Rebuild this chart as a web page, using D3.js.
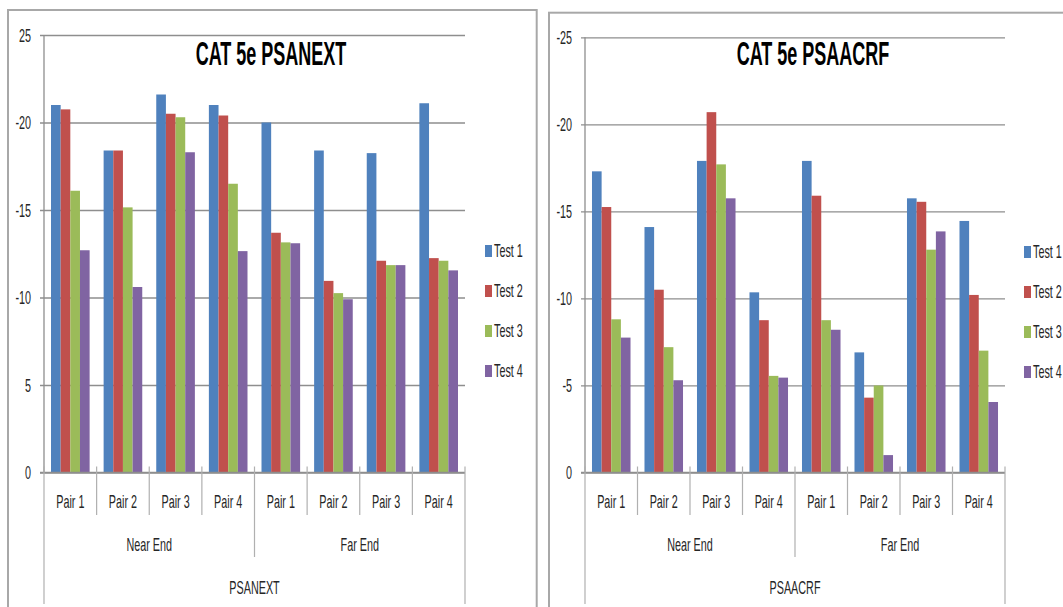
<!DOCTYPE html>
<html>
<head>
<meta charset="utf-8">
<script src="https://cdn.jsdelivr.net/npm/d3@7"></script>
<style>
  html, body { margin: 0; padding: 0; background: #fff; }
  svg { display: block; }
</style>
</head>
<body>
<svg id="chart" width="1063" height="607"></svg>
<script>
// ---------------- DATA ----------------
const seriesNames = ["Test 1", "Test 2", "Test 3", "Test 4"];
const pairs = ["Pair 1", "Pair 2", "Pair 3", "Pair 4"];
const ends = ["Near End", "Far End"];
const tickValues = [0, 5, 10, 15, 20, 25];

// Chart 1: CAT 5e PSANEXT
const nextTitle = "CAT 5e PSANEXT";
const nextAxisTitle = "PSANEXT";
const nextTickLabels = ["0", "5", "-10", "-15", "-20", "25"];
const nextTest1 = [21.0, 18.4, 21.6, 21.0, 20.0, 18.4, 18.25, 21.1];
const nextTest2 = [20.75, 18.4, 20.5, 20.4, 13.7, 10.95, 12.1, 12.25];
const nextTest3 = [16.1, 15.15, 20.3, 16.5, 13.15, 10.25, 11.85, 12.1];
const nextTest4 = [12.7, 10.6, 18.3, 12.65, 13.1, 9.9, 11.85, 11.55];

// Chart 2: CAT 5e PSAACRF
const acrfTitle = "CAT 5e PSAACRF";
const acrfAxisTitle = "PSAACRF";
const acrfTickLabels = ["0", "-5", "-10", "-15", "-20", "-25"];
const acrfTest1 = [17.3, 14.1, 17.9, 10.35, 17.9, 6.9, 15.75, 14.45];
const acrfTest2 = [15.25, 10.5, 20.7, 8.75, 15.9, 4.3, 15.55, 10.2];
const acrfTest3 = [8.8, 7.2, 17.7, 5.55, 8.75, 5.0, 12.8, 7.0];
const acrfTest4 = [7.75, 5.3, 15.75, 5.45, 8.2, 1.0, 13.85, 4.05];

// ---------------- STYLE / LAYOUT ----------------
const colors = ["#4F81BD", "#C0504D", "#9BBB59", "#8064A2"];
const FONT = "'Liberation Sans', Arial, sans-serif";
const SX = 0.6;           // horizontal compression of the text (as in the reference)
const lineColor = "#8e8e8e";

const svg = d3.select("#chart");

function txt(g, x, y, s, size, anchor, weight, fill, sx) {
  return g.append("text")
    .attr("transform", `translate(${x},${y}) scale(${sx || SX},1)`)
    .attr("text-anchor", anchor)
    .attr("font-family", FONT)
    .attr("font-size", size)
    .attr("font-weight", weight || "normal")
    .attr("fill", fill || "#262626")
    .text(s);
}

function drawChart(cfg) {
  const g = svg.append("g");

  // panel border
  g.append("rect")
    .attr("x", cfg.panel[0]).attr("y", cfg.panel[1])
    .attr("width", cfg.panel[2]).attr("height", cfg.panel[3])
    .attr("fill", "#fff").attr("stroke", "#a8a8a8").attr("stroke-width", 2);

  const x0 = cfg.x0, x1 = cfg.x1, yTop = cfg.yTop, yZero = cfg.yZero;
  const y = d3.scaleLinear().domain([0, 25]).range([yZero, yTop]);

  const cats = [];
  ends.forEach(e => pairs.forEach(p => cats.push(e + "|" + p)));
  const xBand = d3.scaleBand().domain(cats).range([x0, x1]).padding(0);
  const bw = xBand.bandwidth();
  const xInner = d3.scaleBand().domain(seriesNames).range([0.133 * bw, 0.867 * bw]).padding(0);

  // gridlines + ticks with d3 axis
  const axisG = g.append("g").attr("transform", `translate(${x0 - 4},0)`);
  axisG.call(d3.axisLeft(y).tickValues(tickValues)
      .tickSize(-(x1 - x0 + 4))
      .tickFormat((d, i) => cfg.tickLabels[i]))
    .call(a => a.select(".domain").remove())
    .call(a => a.selectAll(".tick line").attr("stroke", lineColor).attr("stroke-width", 1.3))
    .call(a => a.selectAll(".tick text")
      .attr("x", 0).attr("dy", 0)
      .attr("transform", `translate(-9,6) scale(${SX},1)`)
      .attr("font-family", FONT).attr("font-size", 18).attr("fill", "#262626"));

  // bars
  const data = cfg.series;
  seriesNames.forEach((s, si) => {
    g.append("g").selectAll("rect")
      .data(data[si])
      .join("rect")
      .attr("x", (d, i) => xBand(cats[i]) + xInner(s))
      .attr("width", xInner.bandwidth())
      .attr("y", d => y(d))
      .attr("height", d => y(0) - y(d))
      .attr("fill", colors[si]);
  });

  // vertical axis line
  g.append("line").attr("x1", x0).attr("x2", x0).attr("y1", yTop).attr("y2", yZero)
    .attr("stroke", lineColor).attr("stroke-width", 1.3);
  // zero axis line (drawn over bars)
  g.append("line").attr("x1", x0 - 4).attr("x2", x1).attr("y1", yZero).attr("y2", yZero)
    .attr("stroke", lineColor).attr("stroke-width", 1.5);

  // category separators
  cats.forEach((c, i) => {
    if (i === 0) return;
    const xs = xBand(c);
    const long = (i % pairs.length === 0);
    g.append("line").attr("x1", xs).attr("x2", xs)
      .attr("y1", yZero - 6).attr("y2", long ? cfg.sepLong : cfg.sepShort)
      .attr("stroke", "#b0b0b0").attr("stroke-width", 1.2);
  });
  // outer vertical lines
  [x0, x1].forEach(xx => {
    g.append("line").attr("x1", xx).attr("x2", xx)
      .attr("y1", yZero - 6).attr("y2", cfg.outerBottom)
      .attr("stroke", "#b0b0b0").attr("stroke-width", 1.2);
  });

  // category labels
  cats.forEach((c, i) => {
    txt(g, xBand(c) + bw / 2, cfg.pairY, pairs[i % pairs.length], 18, "middle");
  });
  ends.forEach((e, ei) => {
    const a = xBand(cats[ei * pairs.length]);
    const b = xBand(cats[ei * pairs.length + pairs.length - 1]) + bw;
    txt(g, (a + b) / 2, cfg.endY, e, 18, "middle");
  });
  txt(g, (x0 + x1) / 2, cfg.axisTitleY, cfg.axisTitle, 18, "middle");

  // title
  txt(g, cfg.titleX, cfg.titleY, cfg.title, 34, "middle", "bold", "#000", 0.53);

  // legend
  seriesNames.forEach((s, si) => {
    const ly = cfg.legendY0 + si * cfg.legendStep;
    g.append("rect").attr("x", cfg.legendX).attr("y", ly - 6)
      .attr("width", 7).attr("height", 12).attr("fill", colors[si]);
    txt(g, cfg.legendX + 9, ly + 6, s, 18, "start");
  });
}

drawChart({
  panel: [8, 10, 528.7, 620],
  x0: 44, x1: 465, yTop: 35, yZero: 472.5,
  tickLabels: nextTickLabels,
  series: [nextTest1, nextTest2, nextTest3, nextTest4],
  sepShort: 515, sepLong: 557, outerBottom: 604,
  pairY: 508, endY: 551, axisTitleY: 594,
  axisTitle: nextAxisTitle,
  title: nextTitle, titleX: 271, titleY: 65,
  legendX: 485, legendY0: 251, legendStep: 40
});

drawChart({
  panel: [549, 12.7, 540, 620],
  x0: 585, x1: 1005, yTop: 37.3, yZero: 472.5,
  tickLabels: acrfTickLabels,
  series: [acrfTest1, acrfTest2, acrfTest3, acrfTest4],
  sepShort: 515, sepLong: 557, outerBottom: 604,
  pairY: 508, endY: 551, axisTitleY: 594,
  axisTitle: acrfAxisTitle,
  title: acrfTitle, titleX: 813, titleY: 65,
  legendX: 1024, legendY0: 252, legendStep: 40
});
</script>
</body>
</html>
